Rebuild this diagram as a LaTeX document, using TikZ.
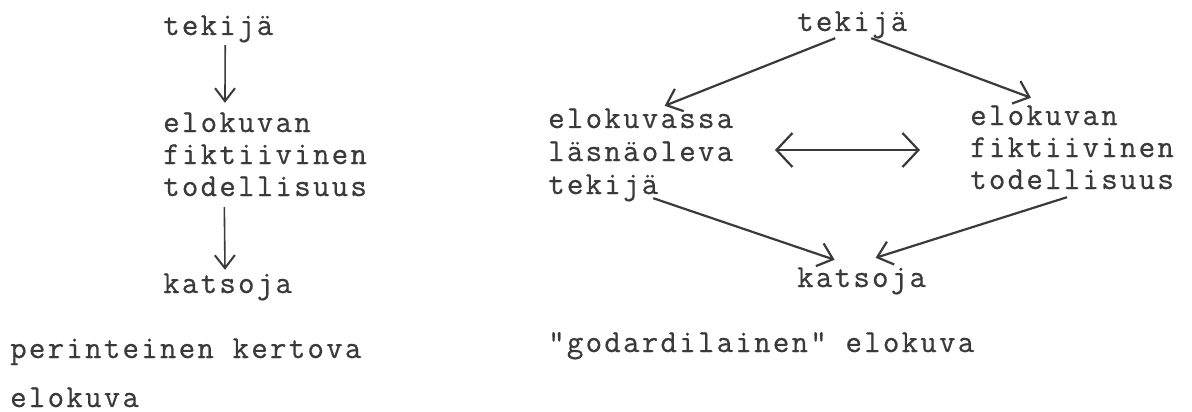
\documentclass[tikz,border=0pt]{standalone}
\usepackage{fontspec}
\usetikzlibrary{arrows.meta}
% typewriter face, slightly spread out and a little heavier
\newfontfamily\tw{Latin Modern Mono}[LetterSpace=7,FakeBold=0.6]
\definecolor{ink}{HTML}{3A3A3A}
\begin{document}
\begin{tikzpicture}[x=1pt,y=-1pt,
  txt/.style={anchor=base west,inner sep=0pt,text=ink,
    font=\tw\fontsize{32}{32}\selectfont,text height=20pt,text depth=7pt},
  arr/.style={draw=ink,line width=2.2pt,
    -{Straight Barb[length=14pt,width=24pt,line width=2.2pt]}},
  arrthin/.style={draw=ink,line width=1.6pt,
    -{Straight Barb[length=13pt,width=20pt,line width=2pt]}},
  dblarr/.style={draw=ink,line width=1.5pt,
    {Straight Barb[length=16pt,width=34pt,line width=2.2pt]}-{Straight Barb[length=16pt,width=34pt,line width=2.2pt]}}]
\useasboundingbox (0,0) rectangle (1192,412);

% traditional narrative film
\node[txt] (tekL) at (163,35)  {tekijä};
\node[txt] (elL)  at (163,132) {elokuvan};
\node[txt] (fiL)  at (163,164) {fiktiivinen};
\node[txt] (toL)  at (163,196) {todellisuus};
\node[txt] (katL) at (163,293) {katsoja};
\node[txt] (capL1) at (10,358) {perinteinen kertova};
\node[txt] (capL2) at (10,407) {elokuva};

\draw[arrthin] ([xshift=7pt,yshift=-3pt]tekL.south) -- ([xshift=-12pt,yshift=9pt]elL.north);
\draw[arrthin] ([xshift=-40.7pt,yshift=-4pt]toL.south) -- ([xshift=-2.6pt,yshift=3pt]katL.north);

% "godardian" film
\node[txt] (tekR)  at (797,31)  {tekijä};
\node[txt] (elvR)  at (548,128) {elokuvassa};
\node[txt] (lsnR)  at (548,161) {läsnäoleva};
\node[txt] (tekR2) at (548,194) {tekijä};
\node[txt] (elR)   at (970,125) {elokuvan};
\node[txt] (fiR)   at (970,157) {fiktiivinen};
\node[txt] (toR)   at (970,189) {todellisuus};
\node[txt] (katR)  at (797,287) {katsoja};
\node[txt] (capR)  at (548,352) {"godardilainen" elokuva};

\draw[arr] ([xshift=-17pt]tekR.south) -- ([xshift=24pt,yshift=2pt]elvR.north);
\draw[arr] ([xshift=19pt]tekR.south) -- ([xshift=-13pt,yshift=7pt]elR.north);
\draw[arr] ([xshift=50pt,yshift=3pt]tekR2.south) -- ([xshift=-27pt,yshift=7pt]katR.north);
\draw[arr] ([xshift=-5pt,yshift=-1pt]toR.south) -- ([xshift=14pt,yshift=9pt]katR.north);
\draw[dblarr] ([xshift=41.6pt,yshift=4.5pt]lsnR.east) -- ([xshift=-50pt,yshift=0.5pt]fiR.west);
\end{tikzpicture}
\end{document}
